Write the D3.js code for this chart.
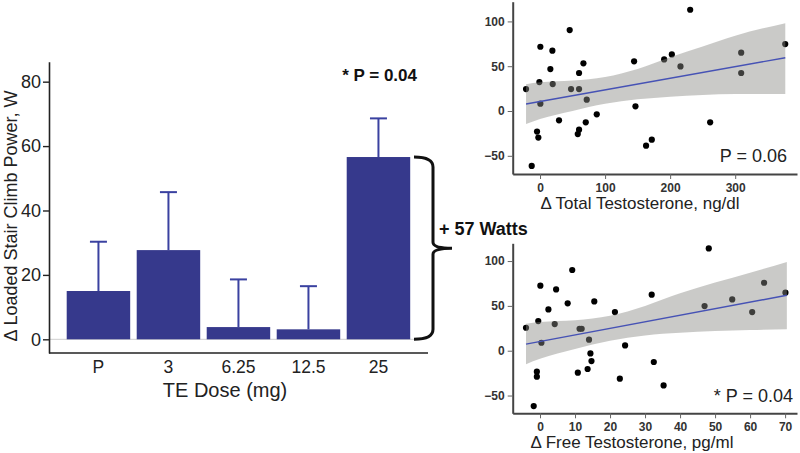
<!DOCTYPE html>
<html>
<head>
<meta charset="utf-8">
<script src="https://cdn.jsdelivr.net/npm/d3@7"></script>
<style>
  body { margin: 0; background: #fff; }
  svg { font-family: "Liberation Sans", Arial, sans-serif; }
</style>
</head>
<body>
<div id="chart"></div>
<script>
// bar chart: change in loaded stair climb power by dose
var doses = ['P', '3', '6.25', '12.5', '25'];
var powerMean = [15, 27.7, 3.8, 3.1, 56.6];
var powerErr = [15.3, 18, 14.8, 13.4, 12];
var barTicks = [0, 20, 40, 60, 80];

// scatter 1: delta total testosterone (ng/dl) vs delta power (W)
var totalT = [-21.5, -12.8, -4.6, -2.6, -1, 0.5, 0.5, 15.9, 19, 19.5, 29.2, 45.6, 47.7, 60, 60, 66.7, 71.8, 70.3, 60, 58, 87.2, 144.6, 146.7, 163, 171.8, 190.8, 202.6, 215.9, 230.8, 261.5, 309.2, 309.2, 376.9];
var totalPower = [24.5, -61.3, -23, -29.7, 32.3, 71.7, 8.2, 46.8, 67.3, 30.1, -10.4, 90.3, 24.5, 24.5, 42.4, 53.2, 12.6, -12.6, -20.8, -25.7, -3.7, 55.4, 5.2, -38.7, -32, 57.6, 63.2, 49.8, 113, -12.6, 65.1, 42.4, 74.7];
var totalFitX = [-21.5, 377];
var totalFitY = [7.8, 59.5];
var totalBandX = [-21.5, 0, 50, 100, 150, 200, 250, 300, 377];
var totalBandHi = [30, 32, 34, 38, 47, 60, 72, 84, 98];
var totalBandLo = [-14.5, -9, 0, 8, 13, 16, 18, 19, 19];
var totalXTicks = [0, 100, 200, 300];

// scatter 2: delta free testosterone (pg/ml) vs delta power (W)
var freeT = [-4, -1.8, -0.9, -0.9, -0.5, 0.1, 0.4, 2.4, 4.2, 4.6, 7.9, 9.2, 10.8, 11.3, 11.9, 13.6, 14, 14.4, 14.7, 15.5, 21.4, 22.8, 24.3, 31.9, 32.5, 35.3, 47, 48.2, 54.9, 60.6, 64, 70.1];
var freePower = [25.6, -61.7, -23.4, -29, 33.1, 72.5, 8.9, 46.1, 29.7, 68.4, 52.8, 90, -24.5, 24.5, 24.5, -20.4, 12.3, -3, -11.5, 55, 43.1, -31.2, 5.9, 62.5, -12.6, -38.7, 49.8, 114.1, 57.2, 43.1, 75.8, 64.7];
var freeFitX = [-4, 70.5];
var freeFitY = [7.4, 61.8];
var freeBandX = [-4, 0, 10, 20, 30, 40, 50, 60, 70.5];
var freeBandHi = [30, 32, 34, 39, 50, 64, 76, 87, 99];
var freeBandLo = [-15, -9, 2, 11, 17, 20, 22, 23, 24];
var freeXTicks = [0, 10, 20, 30, 40, 50, 60, 70];

var scatterYTicks = [-50, 0, 50, 100];

var barColor = '#36398c';
var errColor = '#3a41a0';

var svg = d3.select('#chart').append('svg')
  .attr('width', 800)
  .attr('height', 453);

// ---------- bar chart ----------
var x = d3.scaleBand()
  .domain(doses)
  .range([63.2, 413.7])
  .paddingInner(0.093)
  .paddingOuter(0.05);

var y = d3.scaleLinear()
  .domain([-4.25, 86.2])
  .range([353, 61.7]);

var bars = svg.append('g');

// faint zero line
bars.append('line')
  .attr('x1', 49).attr('x2', 416)
  .attr('y1', y(0)).attr('y2', y(0))
  .attr('stroke', '#cfcfcf')
  .attr('stroke-width', 1);

// error bars (upper only)
var err = bars.selectAll('.err')
  .data(doses)
  .enter().append('g')
  .attr('class', 'err');

err.append('line')
  .attr('x1', d => x(d) + x.bandwidth() / 2)
  .attr('x2', d => x(d) + x.bandwidth() / 2)
  .attr('y1', (d, i) => y(powerMean[i]))
  .attr('y2', (d, i) => y(powerMean[i] + powerErr[i]))
  .attr('stroke', errColor)
  .attr('stroke-width', 2);

err.append('line')
  .attr('x1', d => x(d) + x.bandwidth() / 2 - 8.5)
  .attr('x2', d => x(d) + x.bandwidth() / 2 + 8.5)
  .attr('y1', (d, i) => y(powerMean[i] + powerErr[i]))
  .attr('y2', (d, i) => y(powerMean[i] + powerErr[i]))
  .attr('stroke', errColor)
  .attr('stroke-width', 2);

bars.selectAll('.bar')
  .data(doses)
  .enter().append('rect')
  .attr('class', 'bar')
  .attr('x', d => x(d))
  .attr('width', x.bandwidth())
  .attr('y', (d, i) => y(powerMean[i]))
  .attr('height', (d, i) => y(0) - y(powerMean[i]))
  .attr('fill', barColor);

// y axis
var yAxisG = svg.append('g')
  .attr('transform', 'translate(49,0)')
  .call(d3.axisLeft(y).tickValues(barTicks).tickSize(6).tickSizeOuter(0).tickPadding(2));
yAxisG.selectAll('text').attr('font-size', 18).attr('fill', '#222');

// x axis (labels only, plus a plain baseline)
var xAxisG = svg.append('g')
  .attr('transform', 'translate(0,353)')
  .call(d3.axisBottom(x).tickSize(0).tickPadding(8));
xAxisG.select('.domain').remove();
xAxisG.selectAll('text').attr('font-size', 17.5).attr('fill', '#222');

svg.append('line')
  .attr('x1', 49).attr('x2', 428)
  .attr('y1', 353).attr('y2', 353)
  .attr('stroke', '#222').attr('stroke-width', 1.6);
svg.selectAll('.domain').attr('stroke', '#222').attr('stroke-width', 1.6);
yAxisG.selectAll('.tick line').attr('stroke', '#222').attr('stroke-width', 1.4);

svg.append('text')
  .attr('x', 225).attr('y', 397)
  .attr('text-anchor', 'middle')
  .attr('font-size', 20)
  .attr('fill', '#222')
  .text('TE Dose (mg)');

svg.append('text')
  .attr('transform', 'translate(17,216) rotate(-90)')
  .attr('text-anchor', 'middle')
  .attr('font-size', 18)
  .attr('fill', '#222')
  .text('Δ Loaded Stair Climb Power, W');

svg.append('text')
  .attr('x', 417).attr('y', 81)
  .attr('text-anchor', 'end')
  .attr('font-size', 17)
  .attr('font-weight', 'bold')
  .attr('fill', '#111')
  .text('* P = 0.04');

// brace next to the 25 mg bar
var top25 = y(powerMean[4]);
var bot25 = y(0);
var mid25 = (top25 + bot25) / 2;
svg.append('path')
  .attr('d', `M414,${top25} Q433,${top25} 433,${top25 + 10} L433,${mid25 - 6} Q433,${mid25} 452,${mid25} Q433,${mid25} 433,${mid25 + 6} L433,${bot25 - 10} Q433,${bot25} 414,${bot25}`)
  .attr('fill', 'none')
  .attr('stroke', '#111')
  .attr('stroke-width', 3);

svg.append('text')
  .attr('x', 439).attr('y', 235)
  .attr('font-size', 18)
  .attr('font-weight', 'bold')
  .attr('fill', '#111')
  .text('+ 57 Watts');

// ---------- scatter panels ----------
function scatter(opts) {
  var sx = d3.scaleLinear().domain(opts.xDomain).range([512.7, 797]);
  var sy = d3.scaleLinear().domain(opts.yDomain).range(opts.yRange);
  var g = svg.append('g');

  g.selectAll('.dot')
    .data(opts.xs)
    .enter().append('circle')
    .attr('class', 'dot')
    .attr('cx', d => sx(d))
    .attr('cy', (d, i) => sy(opts.ys[i]))
    .attr('r', 3.1)
    .attr('fill', '#000');

  var band = d3.area()
    .x(d => sx(d))
    .y0((d, i) => sy(opts.bandLo[i]))
    .y1((d, i) => sy(opts.bandHi[i]))
    .curve(d3.curveMonotoneX);
  g.append('path')
    .datum(opts.bandX)
    .attr('d', band)
    .attr('fill', '#8a8a86')
    .attr('fill-opacity', 0.45);

  g.append('line')
    .attr('x1', sx(opts.fitX[0])).attr('x2', sx(opts.fitX[1]))
    .attr('y1', sy(opts.fitY[0])).attr('y2', sy(opts.fitY[1]))
    .attr('stroke', '#4652b5')
    .attr('stroke-width', 1.4);

  var ax = g.append('g')
    .attr('transform', `translate(0,${opts.yRange[0]})`)
    .call(d3.axisBottom(sx).tickValues(opts.xTicks).tickSize(5).tickSizeOuter(0).tickPadding(4));
  var ay = g.append('g')
    .attr('transform', 'translate(512.7,0)')
    .call(d3.axisLeft(sy).tickValues(scatterYTicks).tickSize(5).tickSizeOuter(0).tickPadding(3));
  [ax, ay].forEach(a => {
    a.select('.domain').attr('stroke', '#444').attr('stroke-width', 2);
    a.selectAll('.tick line').attr('stroke', '#666');
    a.selectAll('text').attr('font-size', 12).attr('font-weight', 'bold').attr('fill', '#333');
  });

  g.append('text')
    .attr('x', opts.titleX).attr('y', opts.titleY)
    .attr('text-anchor', 'middle')
    .attr('font-size', 17)
    .attr('fill', '#222')
    .text(opts.title);

  g.append('text')
    .attr('x', opts.pX).attr('y', opts.pY)
    .attr('text-anchor', 'end')
    .attr('font-size', 18)
    .attr('fill', '#222')
    .text(opts.pText);
}

scatter({
  xs: totalT, ys: totalPower,
  xDomain: [-42, 395], yDomain: [-70.3, 122], yRange: [174, 1.7],
  bandX: totalBandX, bandHi: totalBandHi, bandLo: totalBandLo,
  fitX: totalFitX, fitY: totalFitY,
  xTicks: totalXTicks,
  title: 'Δ Total Testosterone, ng/dl', titleX: 640, titleY: 209,
  pText: 'P = 0.06', pX: 787, pY: 162
});

scatter({
  xs: freeT, ys: freePower,
  xDomain: [-7.8, 73.4], yDomain: [-69.8, 119.8], yRange: [413.3, 243.3],
  bandX: freeBandX, bandHi: freeBandHi, bandLo: freeBandLo,
  fitX: freeFitX, fitY: freeFitY,
  xTicks: freeXTicks,
  title: 'Δ Free Testosterone, pg/ml', titleX: 632, titleY: 448,
  pText: '* P = 0.04', pX: 793, pY: 402
});
</script>
</body>
</html>
